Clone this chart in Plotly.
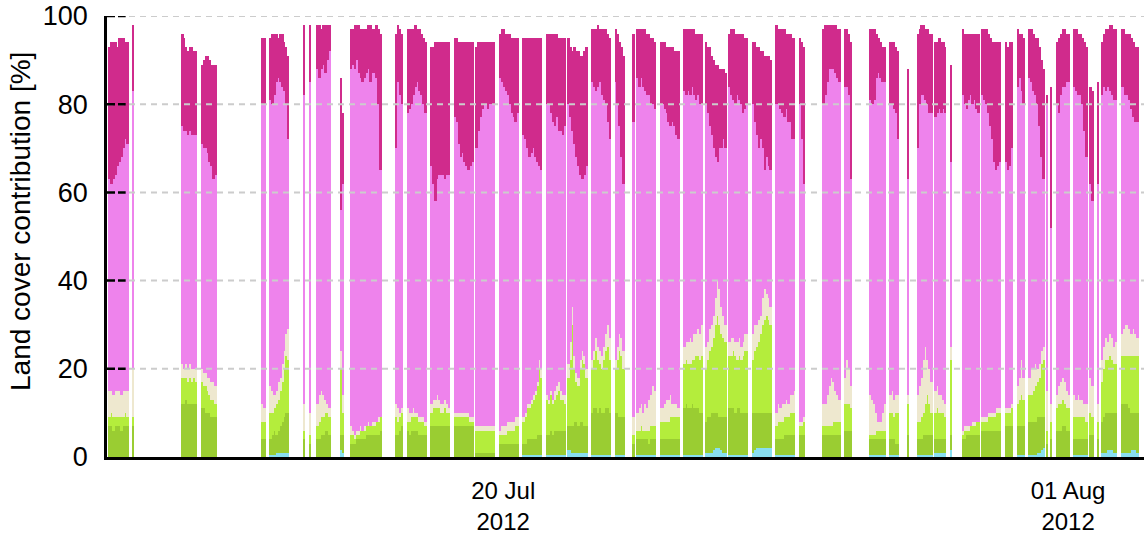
import numpy as np
import pandas as pd
import plotly.graph_objects as go

# Observation clock: hours counted from 11 Jul 2012 14:00, one value per hour
T0 = pd.Timestamp("2012-07-11 14:00")
X_END_HOURS = 528.7

# Contiguous runs of valid footprint estimates (first hour, number of hours)
seg_start = [1, 13, 38, 48, 79, 83, 100, 103, 107, 119, 124, 147, 153, 165, 177, 188,
             200, 212, 224, 235, 247, 259, 268, 270, 282, 294, 305, 317, 329, 341, 353,
             365, 376, 389, 399, 408, 413, 422, 430, 436, 446, 458, 464, 470, 479, 481,
             484, 493, 501, 505, 507, 517]
seg_len = [10, 1, 8, 8, 2, 10, 1, 1, 7, 2, 16, 4, 10, 10, 10, 10,
           10, 10, 10, 10, 10, 5, 1, 10, 10, 10, 11, 10, 10, 10, 3,
           9, 4, 8, 5, 1, 8, 6, 1, 9, 10, 4, 4, 8, 1, 1,
           7, 7, 2, 1, 8, 9]

# Cumulative contribution (%) at the upper edge of each land-cover class,
# stacked bottom to top: water, trees, grass, bare soil, buildings, roads
upper_water = [
    0, 0, 0, 0, 0, 0, 0, 0, 0, 0,
    0,
    0, 0, 0, 0, 0, 0, 0, 0,
    0, 0, 0, 0, 0, 0, 0, 0,
    0, 0,
    .5, .5, .5, 1, 1, 1, 1, 1, 1, 1,
    0,
    0,
    0, 0, 0, 0, 0, 0, 0,
    1.5, 1,
    0, 0, 0, 0, 0, 0, 0, 0, 0, 0, 0, 0, 0, 0, 0, 0,
    0, 0, 0, 0,
    0, 0, 0, 0, 0, 0, 0, 0, 0, 0,
    0, 0, 0, 0, 0, 0, 0, 0, 0, 0,
    0, 0, 0, 0, 0, 0, 0, 0, 0, 0,
    0, 0, 0, 0, 0, 0, 0, 0, 0, 0,
    0, 0, 0, 0, 0, 0, 0, 0, 0, 0,
    .5, .5, .5, .5, .5, .5, .5, .5, .5, .5,
    .5, .5, .5, .5, .5, .5, .5, .5, .5, .5,
    1.5, 1.5, 1, 1, 1, 1, 1, 1, 1, 1,
    .5, .5, .5, .5, .5, .5, .5, .5, .5, .5,
    .5, .5, .5, .5, .5,
    0,
    .5, .5, .5, .5, .5, .5, .5, .5, .5, .5,
    .5, .5, .5, .5, .5, .5, .5, .5, .5, .5,
    .5, .5, .5, .5, .5, .5, .5, .5, .5, .5,
    1, 1, 1, 1, 1.5, 2, 2, 2, 1.5, 1, 1,
    .5, .5, .5, .5, .5, .5, .5, .5, .5, .5,
    1, 1.5, 2, 2, 2, 2, 2, 2, 2, 2,
    .5, .5, .5, .5, .5, .5, .5, .5, .5, .5,
    0, 0, 0,
    0, 0, 0, 0, 0, 0, 0, 0, 0,
    0, 0, 0, 0,
    .5, .5, .5, .5, .5, .5, .5, .5,
    .5, .5, .5, .5, .5,
    0,
    .5, .5, .5, .5, .5, .5, .5, .5,
    1, 1, 1, 1, 1, 1,
    1.5,
    0, 0, 0, 0, 0, 0, 0, 0, 0,
    0, 0, 0, 0, 0, 0, 0, 0, 0, 0,
    0, 0, 0, 0,
    .5, .5, .5, .5,
    .5, .5, .5, .5, 1, 1, 1.5, 2,
    0,
    0,
    0, 0, 0, 0, 0, 0, 0,
    .5, .5, .5, .5, .5, .5, .5,
    0, 0,
    0,
    1, 1, 1, 1.5, 1.5, 1.5, 1, 1,
    1, 1, 1, 1, 1, 1.5, 1.5, 1.5, 1,
]
upper_trees = [
    7, 7, 6, 7, 7, 7, 6, 7, 7, 7,
    7,
    12, 12, 13, 12, 12, 12, 12, 12,
    11, 11, 10, 10, 10, 9, 9, 9,
    4, 4,
    4, 5, 6, 5, 6, 7, 8, 9, 10, 10,
    4,
    3,
    4, 4, 5, 5, 6, 6, 5,
    5, 5,
    3, 3, 3, 4, 4, 4, 4, 4, 5, 5, 5, 5, 5, 5, 5, 6,
    5, 5, 6, 7,
    6, 5, 6, 6, 6, 6, 5, 5, 5, 5,
    7, 7, 7, 7, 7, 7, 7, 7, 7, 7,
    7, 7, 7, 7, 7, 7, 7, 7, 7, 7,
    1, 1, 1, 1, 1, 1, 1, 1, 1, 1,
    3, 3, 3, 3, 3, 3, 3, 3, 3, 3,
    3, 3, 4, 4, 4, 4, 4, 5, 5, 5,
    5, 5, 6, 5, 6, 6, 6, 6, 6, 6,
    7, 7, 7, 8, 8, 7, 8, 8, 7, 7,
    10, 11, 11, 10, 11, 10, 10, 11, 11, 10,
    10, 10, 9, 9, 9,
    3,
    4, 4, 4, 4, 4, 4, 3, 4, 4, 4,
    4, 4, 4, 4, 4, 4, 4, 4, 4, 4,
    11, 12, 11, 11, 12, 11, 11, 11, 10, 10,
    8, 9, 9, 10, 10, 10, 10, 9, 9, 9, 9,
    11, 11, 11, 10, 11, 11, 10, 10, 10, 10,
    10, 10, 10, 10, 10, 10, 10, 10, 10, 10,
    4, 4, 4, 4, 5, 5, 5, 5, 5, 5,
    5, 5, 5,
    5, 5, 5, 5, 5, 5, 5, 5, 5,
    6, 6, 6, 6,
    4, 4, 4, 4, 4, 4, 4, 4,
    4, 4, 4, 3, 3,
    5,
    4, 4, 4, 5, 5, 5, 5, 5,
    4, 4, 4, 4, 4, 4,
    5,
    4, 4, 5, 5, 5, 5, 5, 5, 5,
    6, 6, 6, 6, 6, 6, 6, 6, 6, 6,
    7, 7, 7, 7,
    7, 7, 7, 7,
    8, 8, 8, 8, 9, 9, 9, 9,
    3,
    4,
    6, 6, 6, 7, 7, 6, 6,
    4, 4, 4, 4, 4, 4, 4,
    5, 5,
    4,
    8, 9, 10, 10, 10, 10, 10, 10,
    12, 12, 12, 12, 11, 10, 10, 10, 10,
]
upper_grass = [
    9, 10, 9, 9, 9, 9, 9, 9, 10, 9,
    9,
    18, 18, 18, 17, 18, 17, 18, 17,
    17, 16, 16, 15, 14, 13, 13, 12,
    8, 8,
    10, 10, 11, 12, 13, 15, 17, 20, 23, 22,
    6,
    5,
    7, 8, 9, 9, 10, 10, 9,
    20, 10,
    5, 5, 4, 5, 5, 6, 6, 6, 7, 7, 7, 7, 7, 8, 8, 9,
    9, 8, 9, 10,
    8, 8, 9, 9, 9, 9, 8, 8, 8, 7,
    10, 11, 11, 11, 11, 10, 10, 11, 10, 10,
    9, 9, 9, 9, 9, 9, 9, 9, 8, 8,
    6, 6, 6, 6, 6, 6, 6, 6, 6, 6,
    5, 5, 5, 5, 6, 6, 6, 6, 7, 7,
    8, 9, 11, 11, 12, 13, 14, 16, 20, 18,
    13, 12, 14, 12, 13, 14, 15, 13, 13, 12,
    18, 22, 30, 20, 17, 16, 20, 22, 21, 18,
    20, 22, 24, 22, 21, 20, 22, 24, 25, 22,
    20, 22, 24, 23, 20,
    5,
    6, 6, 7, 6, 6, 6, 6, 7, 7, 7,
    8, 8, 8, 8, 8, 9, 9, 9, 9, 9,
    21, 22, 21, 21, 22, 22, 23, 23, 22, 23,
    20, 22, 24, 25, 27, 30, 32, 30, 28, 27, 26,
    23, 23, 24, 23, 22, 23, 22, 23, 24, 24,
    22, 24, 25, 26, 28, 30, 31, 32, 31, 30,
    7, 8, 8, 8, 9, 9, 9, 10, 10, 10,
    7, 7, 8,
    7, 7, 7, 7, 7, 8, 8, 8, 8,
    12, 12, 12, 11,
    5, 5, 5, 6, 6, 6, 6, 6,
    10, 10, 9, 10, 10,
    12,
    8, 8, 9, 10, 12, 14, 12, 10,
    10, 11, 10, 10, 10, 9,
    22,
    5, 6, 6, 6, 7, 7, 7, 8, 8,
    8, 8, 8, 9, 9, 9, 9, 10, 10, 10,
    10, 10, 10, 11,
    12, 13, 14, 13,
    14, 14, 15, 16, 17, 18, 21, 22,
    6,
    8,
    11, 12, 12, 13, 12, 11, 11,
    9, 9, 9, 9, 9, 9, 8,
    10, 9,
    8,
    17, 20, 22, 22, 23, 22, 21, 21,
    23, 23, 23, 23, 23, 23, 23, 23, 23,
]
upper_bare = [
    15, 15, 14, 15, 15, 15, 14, 15, 15, 15,
    20,
    21, 20, 21, 20, 21, 20, 20, 20,
    20, 19, 19, 18, 18, 17, 17, 16,
    12, 11,
    16, 15, 14, 15, 17, 18, 21, 24, 28, 29,
    12,
    10,
    12, 14, 15, 14, 13, 12, 11,
    24, 14,
    7, 6, 5, 6, 6, 7, 6, 7, 7, 8, 7, 8, 8, 8, 9, 9,
    12, 11, 10, 11,
    11, 10, 10, 11, 10, 10, 9, 9, 9, 8,
    12, 13, 13, 14, 13, 12, 12, 13, 12, 11,
    10, 10, 10, 10, 10, 10, 10, 10, 9, 9,
    7, 7, 7, 7, 7, 7, 7, 7, 7, 7,
    6, 7, 7, 7, 8, 8, 8, 8, 9, 9,
    9, 10, 12, 12, 13, 14, 15, 17, 22, 20,
    14, 13, 15, 13, 15, 16, 17, 15, 14, 14,
    21, 26, 34, 23, 19, 18, 22, 24, 23, 20,
    22, 24, 27, 25, 24, 23, 25, 28, 30, 27,
    22, 25, 28, 27, 24,
    9,
    10, 11, 12, 10, 12, 11, 13, 14, 16, 15,
    11, 11, 12, 13, 13, 14, 12, 12, 12, 11,
    25, 26, 26, 27, 26, 28, 28, 29, 28, 30,
    25, 26, 29, 30, 32, 36, 40, 38, 34, 32, 30,
    26, 27, 27, 26, 26, 27, 25, 26, 28, 28,
    28, 30, 30, 31, 32, 36, 38, 37, 36, 34,
    10, 12, 11, 12, 12, 13, 12, 14, 14, 15,
    8, 8, 9,
    12, 12, 14, 16, 18, 17, 15, 14, 13,
    18, 22, 20, 16,
    14, 13, 12, 10, 8, 8, 10, 12,
    14, 15, 13, 14, 14,
    14,
    14, 16, 18, 22, 25, 22, 20, 17,
    15, 16, 14, 14, 13, 12,
    25,
    6, 7, 7, 7, 7, 8, 8, 8, 8,
    9, 9, 9, 10, 10, 10, 10, 11, 11, 11,
    11, 11, 11, 12,
    16, 18, 22, 18,
    18, 20, 20, 21, 20, 21, 24, 25,
    15,
    12,
    14, 16, 17, 18, 17, 15, 14,
    14, 13, 14, 13, 13, 12, 12,
    18, 16,
    12,
    22, 25, 27, 26, 28, 27, 25, 26,
    28, 29, 30, 30, 29, 28, 29, 28, 27,
]
upper_buildings = [
    63, 62, 63, 64, 66, 67, 68, 70, 72, 71,
    83,
    75, 74, 74, 73, 74, 73, 73, 73,
    71, 70, 70, 69, 67, 66, 63, 64,
    80, 80,
    81, 80, 82, 85, 86, 85, 84, 83, 80, 72,
    82,
    85,
    88, 86, 88, 89, 87, 90, 92,
    56, 62,
    88, 89, 88, 90, 87, 86, 85, 86, 87, 88, 85, 87, 87, 86, 80, 65,
    70, 85, 82, 80,
    78, 79, 80, 82, 84, 85, 83, 82, 80, 78,
    66, 62, 58, 63, 64, 64, 64, 63, 64, 64,
    77, 76, 71, 68, 69, 67, 66, 65, 66, 67,
    70, 74, 77, 79, 80, 80, 79, 80, 80, 80,
    86, 85, 84, 83, 82, 80, 78, 77, 76, 78,
    73, 72, 70, 68, 69, 70, 68, 67, 66, 65,
    80, 80, 78, 76, 75, 77, 74, 74, 73, 75,
    80, 77, 74, 71, 68, 66, 64, 63, 64, 66,
    85, 84, 83, 84, 85, 82, 81, 80, 76, 72,
    85, 80, 75, 68, 62,
    76,
    86, 84, 86, 84, 83, 82, 82, 80, 80, 79,
    80, 80, 79, 78, 76, 75, 76, 75, 73, 72,
    83, 82, 83, 82, 84, 82, 81, 82, 80, 80,
    80, 78, 75, 73, 70, 68, 67, 70, 70, 72, 70,
    84, 82, 81, 80, 82, 81, 80, 78, 79, 80,
    80, 76, 73, 70, 72, 70, 65, 68, 66, 65,
    80, 80, 79, 78, 77, 79, 76, 76, 72, 72,
    80, 72, 62,
    80, 82, 85, 88, 88, 88, 87, 86, 85,
    84, 84, 82, 63,
    81, 80, 81, 86, 87, 86, 85, 85,
    80, 80, 79, 78, 72,
    63,
    70, 80, 82, 82, 81, 80, 78, 78,
    77, 78, 79, 78, 79, 78,
    67,
    82, 80, 79, 81, 82, 80, 81, 79, 78,
    82, 81, 80, 78, 75, 72, 67, 65, 66, 67,
    67, 65, 66, 70,
    84, 86, 83, 80,
    86, 85, 83, 82, 80, 75, 68, 63,
    80,
    52,
    80, 78, 82, 84, 84, 85, 85,
    84, 83, 82, 82, 80, 74, 68,
    62, 58,
    62,
    82, 84, 83, 84, 83, 82, 81, 81,
    84, 84, 82, 82, 81, 79, 77, 76, 76,
]
upper_roads = [
    93, 94, 94, 94, 93, 95, 95, 95, 94, 94,
    98,
    96, 95, 93, 92, 93, 93, 92, 92,
    89, 90, 91, 91, 90, 89, 89, 89,
    95, 95,
    95, 96, 96, 96, 95, 96, 96, 94, 93, 91,
    98,
    98,
    98, 98, 97, 98, 98, 98, 98,
    86, 78,
    97, 97, 98, 98, 98, 97, 97, 97, 97, 98, 98, 97, 97, 98, 97, 96,
    96, 98, 97, 96,
    97, 97, 97, 97, 98, 97, 97, 96, 95, 94,
    93, 93, 94, 94, 94, 94, 94, 94, 94, 94,
    95, 95, 94, 94, 94, 94, 94, 94, 94, 94,
    93, 94, 94, 94, 94, 94, 94, 94, 94, 94,
    96, 97, 97, 96, 96, 96, 95, 95, 95, 95,
    95, 95, 95, 95, 95, 95, 95, 95, 95, 95,
    96, 96, 96, 96, 96, 96, 95, 95, 95, 95,
    95, 93, 92, 93, 92, 92, 91, 91, 92, 93,
    97, 97, 97, 98, 97, 97, 97, 97, 96, 95,
    97, 96, 94, 93, 91,
    96,
    97, 97, 97, 97, 97, 96, 96, 95, 95, 94,
    94, 94, 94, 93, 93, 93, 93, 92, 92, 92,
    97, 97, 97, 97, 97, 97, 96, 96, 96, 96,
    94, 93, 93, 91, 90, 89, 89, 88, 88, 88, 87,
    96, 97, 97, 96, 96, 96, 96, 96, 95, 95,
    94, 94, 93, 93, 92, 92, 91, 91, 91, 90,
    98, 97, 97, 97, 97, 96, 96, 96, 95, 95,
    95, 94, 93,
    97, 98, 98, 98, 98, 98, 98, 97, 97,
    97, 97, 96, 94,
    97, 97, 97, 96, 95, 94, 93, 93,
    94, 94, 94, 93, 92,
    88,
    96, 97, 98, 98, 97, 97, 96, 96,
    94, 94, 95, 94, 94, 93,
    89,
    97, 96, 96, 96, 96, 96, 96, 96, 96,
    97, 97, 97, 96, 95, 94, 94, 94, 94, 94,
    94, 93, 94, 94,
    97, 96, 96, 95,
    97, 97, 96, 95, 95, 93, 90, 88,
    82,
    84,
    94, 95, 96, 97, 97, 96, 96,
    97, 97, 96, 96, 95, 94, 93,
    84, 83,
    85,
    94, 96, 97, 97, 98, 98, 97, 97,
    97, 97, 96, 96, 96, 95, 94, 93, 93,
]

class_names = ["Water", "Trees", "Grass", "Bare soil", "Buildings", "Roads"]
class_colors = ["#88dff0", "#9acd32", "#b4ed3c", "#eee8cf", "#ee83ec", "#d02b8c"]

y_ticks = [0, 20, 40, 60, 80, 100]
x_tick_dates = ["2012-07-20", "2012-08-01"]
x_tick_text = ["20 Jul<br>2012", "01 Aug<br>2012"]

# ---- derive hourly timestamps and per-class shares ----
obs_hours = np.concatenate([np.arange(s, s + n) for s, n in zip(seg_start, seg_len)])
times = T0 + pd.to_timedelta(obs_hours + 0.5, unit="h")

uppers = np.array([upper_water, upper_trees, upper_grass, upper_bare,
                   upper_buildings, upper_roads], dtype=float)
assert uppers.shape[1] == len(obs_hours)
shares = np.clip(np.diff(np.vstack([np.zeros(len(obs_hours)), uppers]), axis=0), 0, None)

FONT = "Liberation Sans, Arial, sans-serif"

fig = go.Figure()
for name, col, vals in zip(class_names, class_colors, shares):
    fig.add_trace(go.Bar(
        x=times, y=vals, name=name, width=3600 * 1000,
        marker=dict(color=col, line=dict(width=0)),
        hovertemplate="%{x}<br>" + name + ": %{y:.1f}%<extra></extra>",
    ))

shapes = []
for yv in y_ticks[1:]:
    shapes.append(dict(type="line", xref="x domain", yref="y", x0=0, x1=1, y0=yv, y1=yv,
                       line=dict(color="#cccccc", width=2, dash="6px,5px"), layer="above"))
    shapes.append(dict(type="line", xref="x domain", yref="y", x0=0, x1=0.018, y0=yv, y1=yv,
                       line=dict(color="black", width=2.5, dash="8px,3px"), layer="above"))

fig.update_layout(
    width=1144, height=541,
    margin=dict(l=107, r=0, t=16, b=84),
    barmode="stack", bargap=0,
    plot_bgcolor="white", paper_bgcolor="white",
    showlegend=False,
    font=dict(family=FONT, size=24, color="black"),
    shapes=shapes,
    annotations=[dict(
        text="Land cover contribution [%]", textangle=-90,
        xref="paper", yref="paper", x=-0.084, y=0.535,
        xanchor="center", yanchor="middle", showarrow=False,
        font=dict(family=FONT, size=28, color="black"),
    )],
)
fig.update_xaxes(
    type="date",
    range=[T0, T0 + pd.Timedelta(hours=X_END_HOURS)],
    tickvals=x_tick_dates, ticktext=x_tick_text,
    showgrid=False, zeroline=False,
    showline=True, linecolor="black", linewidth=2.5,
    ticks="", ticklabelstandoff=10,
    tickfont=dict(family=FONT, size=24, color="black"),
)
fig.update_yaxes(
    range=[0, 100], tickvals=y_ticks,
    showgrid=False, zeroline=False,
    showline=True, linecolor="black", linewidth=2.5,
    ticks="", ticklabelstandoff=11,
    tickfont=dict(family=FONT, size=27, color="black"),
)

fig.write_html("out.html")
